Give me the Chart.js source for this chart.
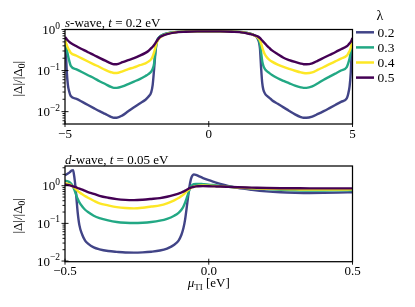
<!DOCTYPE html>
<html><head><meta charset="utf-8">
<script src="https://cdn.jsdelivr.net/npm/chart.js@4"></script>
<style>
html,body{margin:0;padding:0;background:#fff;width:415px;height:307px;overflow:hidden}
canvas{position:absolute;left:0;top:0}
</style></head>
<body>
<canvas id="cS" width="415" height="307"></canvas>
<canvas id="cD" width="415" height="307"></canvas>
<script>
// ---------- data ----------
const lambdas = ['0.2', '0.3', '0.4', '0.5'];
const colors = ['#414487', '#22a884', '#fde725', '#440154'];

const muS = [-5, -4.97, -4.94, -4.9, -4.85, -4.8, -4.6, -4.4, -4.2, -4.0,
  -3.8, -3.6, -3.4, -3.3, -3.2, -3.0, -2.8, -2.6, -2.4, -2.2,
  -2.1, -2.0, -1.95, -1.9, -1.86, -1.82, -1.78, -1.7, -1.6, -1.45,
  -1.2, -0.8, -0.4, 0, 0.4, 0.8, 1.2, 1.45, 1.6, 1.7,
  1.78, 1.82, 1.86, 1.9, 1.95, 2.0, 2.1, 2.2, 2.4, 2.6,
  2.8, 3.0, 3.2, 3.3, 3.4, 3.6, 3.8, 4.0, 4.2, 4.4,
  4.6, 4.8, 4.85, 4.9, 4.94, 4.97, 5];
const sWave02 = [0.6, 0.3, 0.1, 0.045, 0.03, 0.024, 0.0205, 0.0173, 0.0145, 0.0122,
  0.0103, 0.0088, 0.0075, 0.0071, 0.0071, 0.0081, 0.0102, 0.0128, 0.0158, 0.0195,
  0.023, 0.03, 0.045, 0.11, 0.25, 0.45, 0.57, 0.67, 0.74, 0.8,
  0.86, 0.89, 0.9, 0.9, 0.9, 0.89, 0.86, 0.79, 0.71, 0.6,
  0.35, 0.12, 0.05, 0.034, 0.028, 0.025, 0.022, 0.019, 0.0155, 0.0127,
  0.0104, 0.0086, 0.0074, 0.0071, 0.0071, 0.0076, 0.0088, 0.0103, 0.0122, 0.0145,
  0.0173, 0.021, 0.027, 0.042, 0.09, 0.28, 0.6];
const sWave03 = [0.6, 0.45, 0.33, 0.24, 0.17, 0.13, 0.107, 0.091, 0.077, 0.066,
  0.055, 0.047, 0.04, 0.038, 0.038, 0.041, 0.047, 0.054, 0.062, 0.074,
  0.082, 0.095, 0.11, 0.15, 0.28, 0.45, 0.57, 0.67, 0.74, 0.8,
  0.86, 0.89, 0.9, 0.9, 0.9, 0.89, 0.86, 0.79, 0.72, 0.64,
  0.45, 0.28, 0.17, 0.13, 0.11, 0.1, 0.088, 0.078, 0.065, 0.056,
  0.049, 0.043, 0.039, 0.038, 0.038, 0.041, 0.049, 0.06, 0.071, 0.084,
  0.1, 0.122, 0.15, 0.2, 0.28, 0.4, 0.6];
const sWave04 = [0.55, 0.48, 0.42, 0.36, 0.31, 0.27, 0.23, 0.195, 0.166, 0.142,
  0.122, 0.104, 0.091, 0.087, 0.087, 0.096, 0.108, 0.12, 0.135, 0.15,
  0.165, 0.19, 0.22, 0.28, 0.36, 0.45, 0.53, 0.63, 0.71, 0.78,
  0.85, 0.89, 0.9, 0.9, 0.9, 0.89, 0.85, 0.78, 0.71, 0.64,
  0.55, 0.46, 0.37, 0.3, 0.25, 0.22, 0.185, 0.165, 0.14, 0.123,
  0.11, 0.099, 0.09, 0.087, 0.086, 0.09, 0.105, 0.122, 0.143, 0.167,
  0.195, 0.23, 0.26, 0.3, 0.36, 0.44, 0.55];
const sWave05 = [0.66, 0.62, 0.58, 0.54, 0.5, 0.47, 0.39, 0.33, 0.28, 0.24,
  0.204, 0.174, 0.15, 0.143, 0.143, 0.16, 0.18, 0.2, 0.23, 0.27,
  0.3, 0.35, 0.38, 0.42, 0.46, 0.51, 0.56, 0.65, 0.71, 0.77,
  0.84, 0.88, 0.9, 0.9, 0.9, 0.88, 0.84, 0.77, 0.72, 0.68,
  0.62, 0.58, 0.54, 0.5, 0.46, 0.42, 0.36, 0.31, 0.25, 0.205,
  0.18, 0.162, 0.148, 0.143, 0.142, 0.15, 0.175, 0.205, 0.24, 0.28,
  0.33, 0.39, 0.42, 0.46, 0.5, 0.55, 0.62];

const muD = [-0.5, -0.49, -0.483, -0.477, -0.472, -0.468, -0.464, -0.46, -0.456, -0.45,
  -0.44, -0.43, -0.42, -0.4, -0.38, -0.35, -0.32, -0.29, -0.26, -0.23,
  -0.2, -0.17, -0.145, -0.12, -0.105, -0.095, -0.088, -0.082, -0.077, -0.072,
  -0.067, -0.062, -0.057, -0.052, -0.045, -0.035, -0.02, 0, 0.02, 0.04,
  0.07, 0.1, 0.15, 0.2, 0.25, 0.3, 0.35, 0.4, 0.45, 0.5];
const dWave02 = [1.9, 2.1, 2.3, 2.55, 2.6, 1.8, 1.0, 0.45, 0.2, 0.09,
  0.05, 0.035, 0.029, 0.023, 0.0205, 0.0185, 0.0175, 0.0168, 0.0167, 0.017,
  0.0177, 0.019, 0.0215, 0.027, 0.035, 0.05, 0.075, 0.13, 0.25, 0.5,
  0.95, 1.5, 1.85, 2.0, 1.95, 1.8, 1.6, 1.4, 1.25, 1.12,
  0.98, 0.88, 0.78, 0.71, 0.67, 0.65, 0.64, 0.645, 0.655, 0.67];
const dWave03 = [1.36, 1.3, 1.22, 1.1, 0.95, 0.8, 0.66, 0.54, 0.45, 0.36,
  0.28, 0.23, 0.2, 0.16, 0.138, 0.12, 0.109, 0.104, 0.102, 0.104,
  0.109, 0.118, 0.132, 0.16, 0.19, 0.23, 0.28, 0.36, 0.46, 0.6,
  0.78, 0.95, 1.05, 1.1, 1.12, 1.12, 1.1, 1.07, 1.03, 0.99,
  0.94, 0.9, 0.85, 0.81, 0.78, 0.76, 0.75, 0.75, 0.755, 0.76];
const dWave04 = [1.16, 1.12, 1.07, 1.0, 0.94, 0.89, 0.84, 0.78, 0.73, 0.67,
  0.59, 0.53, 0.48, 0.4, 0.34, 0.3, 0.27, 0.255, 0.25, 0.26,
  0.28, 0.3, 0.34, 0.41, 0.47, 0.53, 0.58, 0.64, 0.7, 0.76,
  0.82, 0.87, 0.91, 0.94, 0.97, 1.0, 1.01, 1.0, 0.98, 0.96,
  0.93, 0.9, 0.86, 0.83, 0.81, 0.8, 0.79, 0.79, 0.79, 0.8];
const dWave05 = [1.08, 1.05, 1.02, 0.99, 0.96, 0.94, 0.92, 0.9, 0.87, 0.84,
  0.79, 0.73, 0.68, 0.61, 0.54, 0.48, 0.44, 0.42, 0.415, 0.425,
  0.445, 0.47, 0.51, 0.57, 0.62, 0.66, 0.7, 0.74, 0.78, 0.82,
  0.86, 0.89, 0.92, 0.94, 0.96, 0.97, 0.975, 0.97, 0.96, 0.95,
  0.93, 0.91, 0.89, 0.87, 0.86, 0.855, 0.85, 0.85, 0.85, 0.85];

// tick values / labels
const sXTicks = [-5, 0, 5];
const sXTickLabels = ['\u22125', '0', '5'];
const dXTicks = [-0.5, 0, 0.5];
const dXTickLabels = ['\u22120.5', '0.0', '0.5'];
const yMajorTicks = [1, 0.1, 0.01];
const yMajorExp = ['0', '\u22121', '\u22122'];
const sYMinor = [0.005, 0.006, 0.007, 0.008, 0.009, 0.02, 0.03, 0.04, 0.05, 0.06, 0.07, 0.08, 0.09,
  0.2, 0.3, 0.4, 0.5, 0.6, 0.7, 0.8, 0.9];
const dYMinor = [0.02, 0.03, 0.04, 0.05, 0.06, 0.07, 0.08, 0.09,
  0.2, 0.3, 0.4, 0.5, 0.6, 0.7, 0.8, 0.9, 2, 3];

// ---------- drawing helpers ----------
const SERIF = '"Liberation Serif","DejaVu Serif",serif';
function fnt(size, italic) { return (italic ? 'italic ' : '') + size + 'px ' + SERIF; }
function rich(ctx, segs, x, y, align) {
  ctx.textAlign = 'left';
  let w = 0;
  segs.forEach(s => { ctx.font = s.f; s.w = ctx.measureText(s.t).width; w += s.w; });
  let cx = align === 'center' ? x - w / 2 : (align === 'right' ? x - w : x);
  segs.forEach(s => { ctx.font = s.f; ctx.fillText(s.t, cx, y + (s.dy || 0)); cx += s.w; });
}
function seg(ctx, x1, y1, x2, y2) { ctx.beginPath(); ctx.moveTo(x1, y1); ctx.lineTo(x2, y2); ctx.stroke(); }

function makeDeco(cfg) {
  return {
    id: 'deco' + cfg.key,
    afterDraw(chart) {
      const ctx = chart.ctx, a = chart.chartArea, xs = chart.scales.x, ys = chart.scales.y;
      ctx.save();
      ctx.strokeStyle = '#000'; ctx.fillStyle = '#000'; ctx.textBaseline = 'alphabetic';
      ctx.lineWidth = 1.25;
      ctx.strokeRect(a.left, a.top, a.right - a.left, a.bottom - a.top);
      ctx.lineWidth = 0.9;
      cfg.yMinor.forEach(v => { const py = ys.getPixelForValue(v); seg(ctx, a.left - 2.5, py, a.left, py); });
      cfg.yMajor.forEach((v, i) => {
        const py = ys.getPixelForValue(v);
        seg(ctx, a.left - 3.5, py, a.left + 3.5, py);
        rich(ctx, [{ t: '10', f: fnt(13) }, { t: cfg.yExp[i], f: fnt(9.5), dy: -5.5 }], a.left - 5, py + 4.5, 'right');
      });
      cfg.xTicks.forEach((v, i) => {
        const px = xs.getPixelForValue(v);
        seg(ctx, px, a.bottom - 3, px, a.bottom + 3);
        rich(ctx, [{ t: cfg.xLabels[i], f: fnt(13) }], px, a.bottom + cfg.xLabelDy, 'center');
      });
      rich(ctx, cfg.title, a.left, a.top - 2.5, 'left');
      // y label
      ctx.save();
      ctx.translate(cfg.yLabelX, (a.top + a.bottom) / 2 + 2);
      ctx.rotate(-Math.PI / 2);
      rich(ctx, [{ t: '|\u0394|/|\u0394', f: fnt(13) }, { t: '0', f: fnt(9.5), dy: 3 }, { t: '|', f: fnt(13) }], 0, 4.5, 'center');
      ctx.restore();
      if (cfg.xTitle) rich(ctx, cfg.xTitle, (a.left + a.right) / 2, cfg.xTitleY, 'center');
      if (cfg.legend) {
        rich(ctx, [{ t: '\u03bb', f: fnt(14) }], 380, 20, 'center');
        chart.data.datasets.forEach((ds, i) => {
          const ly = 32.3 + 15.1 * i;
          ctx.strokeStyle = ds.borderColor; ctx.lineWidth = 2.5;
          seg(ctx, 356, ly, 374, ly);
          ctx.fillStyle = '#000';
          rich(ctx, [{ t: ds.label, f: fnt(13.5) }], 377.5, ly + 4.7, 'left');
        });
      }
      ctx.restore();
    }
  };
}

function buildDatasets(mu, series) {
  return series.map((vals, i) => ({
    label: lambdas[i],
    data: mu.map((m, j) => ({ x: m, y: vals[j] })),
    borderColor: colors[i],
    borderWidth: 2.4,
    pointRadius: 0,
    fill: false,
    cubicInterpolationMode: 'monotone',
    order: 3 - i
  }));
}

function baseOptions(padding, xmin, xmax, ymin, ymax) {
  return {
    responsive: false, animation: false, devicePixelRatio: 1,
    layout: { padding: padding },
    plugins: { legend: { display: false }, title: { display: false }, tooltip: { enabled: false } },
    scales: {
      x: { type: 'linear', min: xmin, max: xmax, display: false },
      y: { type: 'logarithmic', min: ymin, max: ymax, display: false }
    }
  };
}

new Chart(document.getElementById('cS'), {
  type: 'line',
  data: { datasets: buildDatasets(muS, [sWave02, sWave03, sWave04, sWave05]) },
  options: baseOptions({ left: 65, right: 62.5, top: 29.5, bottom: 183 }, -5, 5, 0.005, 1),
  plugins: [makeDeco({
    key: 'S', yMinor: sYMinor, yMajor: yMajorTicks, yExp: yMajorExp,
    xTicks: sXTicks, xLabels: sXTickLabels, xLabelDy: 13.5, yLabelX: 17.5, legend: true,
    title: [{ t: 's', f: fnt(13, true) }, { t: '-wave, ', f: fnt(13) }, { t: 't', f: fnt(13, true) }, { t: ' = 0.2 eV', f: fnt(13) }]
  })]
});

new Chart(document.getElementById('cD'), {
  type: 'line',
  data: { datasets: buildDatasets(muD, [dWave02, dWave03, dWave04, dWave05]) },
  options: baseOptions({ left: 65, right: 62.5, top: 166, bottom: 45.3 }, -0.5, 0.5, 0.0096, 3.34),
  plugins: [makeDeco({
    key: 'D', yMinor: dYMinor, yMajor: yMajorTicks, yExp: yMajorExp,
    xTicks: dXTicks, xLabels: dXTickLabels, xLabelDy: 13, yLabelX: 17.5, legend: false,
    title: [{ t: 'd', f: fnt(13, true) }, { t: '-wave, ', f: fnt(13) }, { t: 't', f: fnt(13, true) }, { t: ' = 0.05 eV', f: fnt(13) }],
    xTitle: [{ t: '\u03bc', f: fnt(13, true) }, { t: 'TI', f: fnt(9), dy: 3 }, { t: ' [eV]', f: fnt(13) }],
    xTitleY: 286.5
  })]
});
</script>
</body></html>
